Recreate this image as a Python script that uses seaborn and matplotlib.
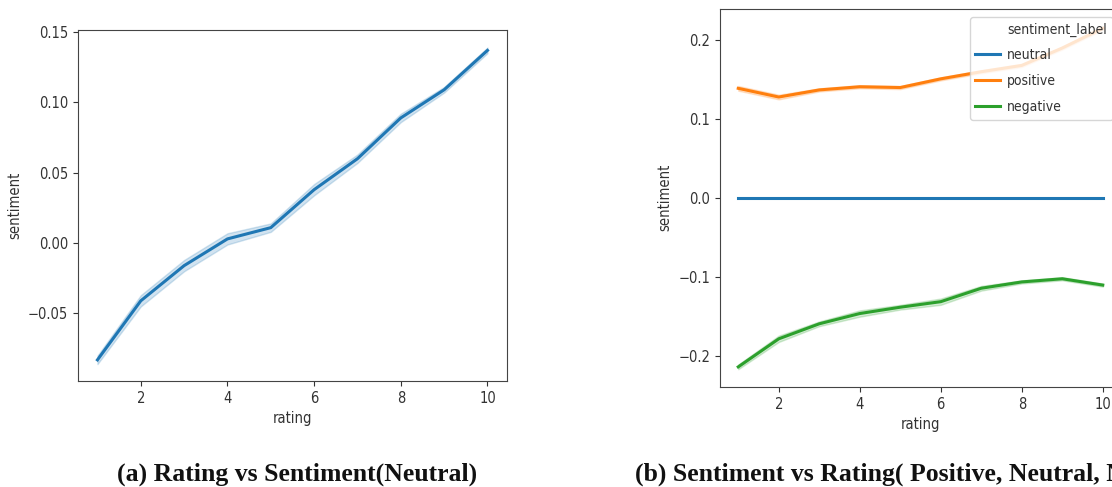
import pandas as pd
import matplotlib.pyplot as plt
import seaborn as sns
from matplotlib.lines import Line2D

# ================================================
# Data
# ================================================
ratings = [1, 2, 3, 4, 5, 6, 7, 8, 9, 10]

# (a) mean sentiment per rating + half width of the band
overall_mean = [-0.083, -0.041, -0.016, 0.003, 0.011, 0.038, 0.060, 0.089, 0.109, 0.137]
overall_ci = [0.003, 0.004, 0.004, 0.004, 0.003, 0.004, 0.003, 0.003, 0.002, 0.002]

# (b) mean sentiment per rating split by label
label_order = ["neutral", "positive", "negative"]
neutral_mean = [0.0, 0.0, 0.0, 0.0, 0.0, 0.0, 0.0, 0.0, 0.0, 0.0]
neutral_ci = [0.0, 0.0, 0.0, 0.0, 0.0, 0.0, 0.0, 0.0, 0.0, 0.0]
positive_mean = [0.139, 0.128, 0.137, 0.141, 0.140, 0.151, 0.160, 0.168, 0.190, 0.215]
positive_ci = [0.003, 0.003, 0.002, 0.002, 0.002, 0.002, 0.002, 0.002, 0.002, 0.002]
negative_mean = [-0.2135, -0.178, -0.159, -0.146, -0.138, -0.131, -0.114, -0.106, -0.102, -0.110]
negative_ci = [0.003, 0.004, 0.003, 0.004, 0.003, 0.004, 0.003, 0.002, 0.002, 0.002]

caption_a = "(a) Rating vs Sentiment(Neutral)"
caption_b = "(b) Sentiment vs Rating( Positive, Neutral, Negative)"


def spread(mean, ci, label=None):
    # three rows per rating so seaborn's interval spans mean +/- ci
    rows = []
    for r, m, c in zip(ratings, mean, ci):
        for v in (m - c, m, m + c):
            rows.append({"rating": r, "sentiment": v, "sentiment_label": label})
    return pd.DataFrame(rows)


df_a = spread(overall_mean, overall_ci)
df_b = pd.concat([
    spread(neutral_mean, neutral_ci, "neutral"),
    spread(positive_mean, positive_ci, "positive"),
    spread(negative_mean, negative_ci, "negative"),
], ignore_index=True)

# ================================================
# Plot
# ================================================
FS = 10.5
plt.rcParams["font.family"] = ["DejaVu Sans"]
plt.rcParams["font.stretch"] = "condensed"
plt.rcParams["font.size"] = FS
plt.rcParams["text.color"] = "#333333"
plt.rcParams["axes.labelcolor"] = "#333333"
plt.rcParams["xtick.color"] = "#333333"
plt.rcParams["ytick.color"] = "#333333"
plt.rcParams["axes.edgecolor"] = "#444444"

fig = plt.figure(figsize=(11.12, 4.87), dpi=100)
ax1 = fig.add_axes([0.0701, 0.2177, 0.3858, 0.7207])
ax2 = fig.add_axes([0.6475, 0.2053, 0.3606, 0.7772])

sns.lineplot(data=df_a, x="rating", y="sentiment", errorbar=("pi", 100),
             color="#1f77b4", linewidth=2.2, ax=ax1)
ax1.set_ylim(-0.098, 0.1515)
ax1.set_yticks([-0.05, 0.0, 0.05, 0.10, 0.15])
ax1.set_xticks([2, 4, 6, 8, 10])

sns.lineplot(data=df_b, x="rating", y="sentiment", hue="sentiment_label",
             hue_order=label_order, palette="tab10", errorbar=("pi", 100),
             linewidth=2.2, ax=ax2)
ax2.set_ylim(-0.239, 0.240)
ax2.set_xticks([2, 4, 6, 8, 10])

# old-style seaborn legend: the hue name sits as a blank entry on top
handles, names = ax2.get_legend_handles_labels()
blank = Line2D([], [], linestyle="none")
ax2.legend([blank] + handles, ["sentiment_label"] + names, loc="upper right",
           fontsize=10, framealpha=0.8, handlelength=1.8, handletextpad=0.5,
           labelspacing=0.85, borderaxespad=0.6)

for ax in (ax1, ax2):
    ax.tick_params(labelsize=FS)
    ax.xaxis.label.set_size(FS)
    ax.yaxis.label.set_size(FS)

fig.text(0.267, 0.027, caption_a, ha="center", va="center",
         family="Liberation Serif", fontweight="bold", fontstretch="normal",
         fontsize=18.5, color="#111111")
fig.text(0.571, 0.027, caption_b, ha="left", va="center",
         family="Liberation Serif", fontweight="bold", fontstretch="normal",
         fontsize=18.5, color="#111111")

fig.savefig("out.png", dpi=100)
